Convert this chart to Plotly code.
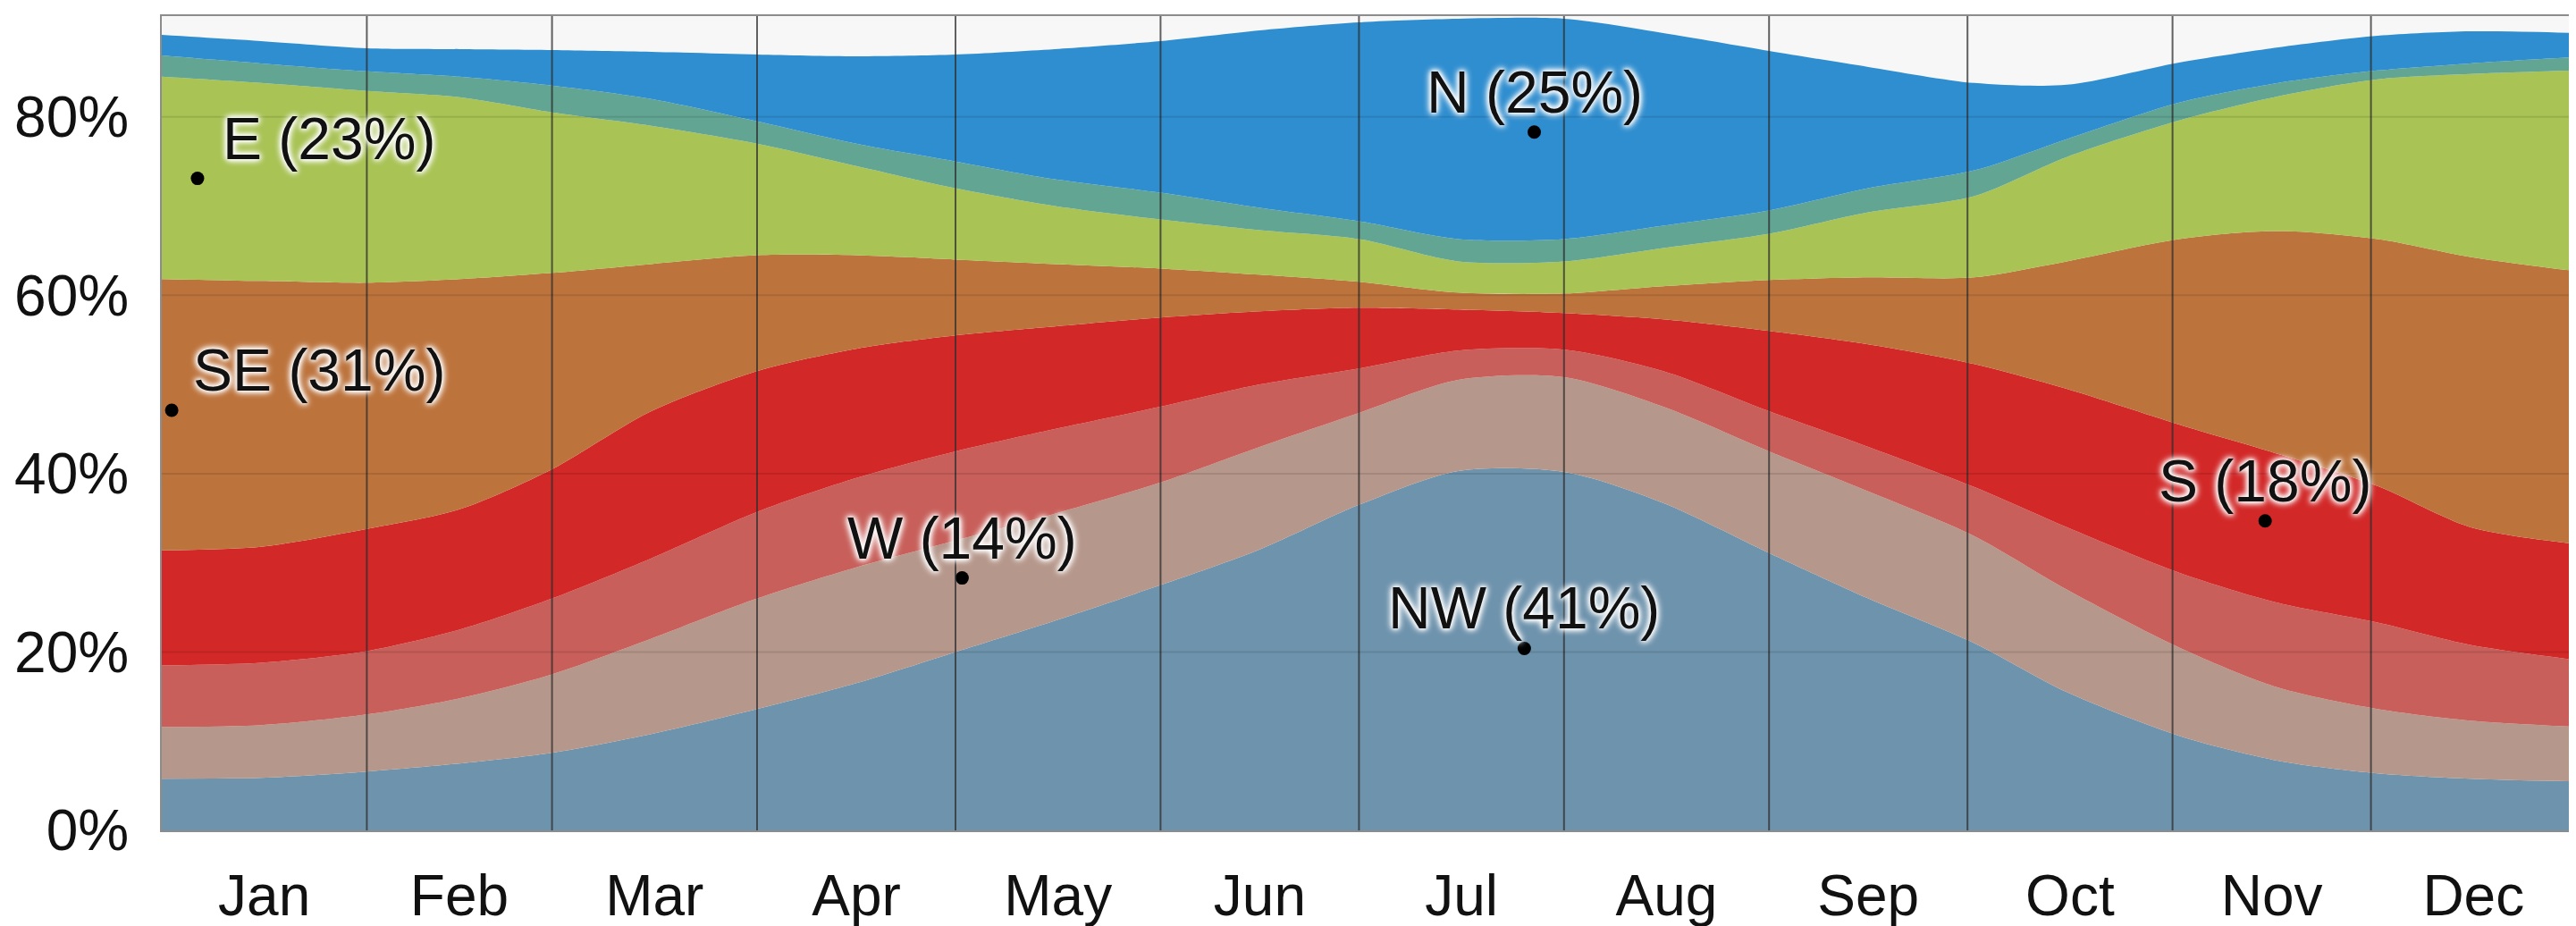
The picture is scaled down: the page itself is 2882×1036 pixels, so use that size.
import plotly.graph_objects as go

# ---- data -------------------------------------------------------------
days = [0, 15, 31, 45, 59, 74, 90, 105, 120, 135, 151, 166, 181, 196, 212,
        227, 243, 258, 274, 288, 305, 320, 335, 349, 365]

# percentage of hours the wind blows from each direction (stacked bottom -> top)
NW = [5.8, 5.9, 6.6, 7.5, 8.7, 10.8, 13.6, 16.5, 20.0, 23.5, 27.5, 31.5, 36.5, 40.3, 40.2,
      36.7, 31.1, 26.0, 21.0, 15.5, 10.6, 7.8, 6.4, 5.8, 5.5]
W = [5.8, 5.9, 6.4, 7.3, 8.8, 10.7, 12.4, 13.0, 12.5, 12.0, 11.5, 11.5, 10.3, 10.2, 10.6,
     10.8, 11.4, 12.0, 12.0, 11.5, 9.9, 8.2, 7.2, 6.5, 6.1]
SW = [6.9, 7.0, 7.1, 7.7, 8.5, 9.0, 9.7, 10.0, 10.0, 9.5, 8.5, 7.0, 5.0, 3.3, 3.1,
      4.0, 4.5, 5.0, 5.5, 7.0, 8.4, 9.5, 9.7, 8.5, 7.5]
S = [12.9, 13.0, 13.7, 13.5, 14.5, 16.5, 15.8, 14.5, 13.0, 11.5, 10.0, 8.2, 6.8, 4.6, 4.1,
     5.8, 9.0, 11.5, 13.8, 15.5, 16.6, 16.7, 15.3, 13.2, 13.0]
SE = [30.4, 29.8, 27.6, 25.8, 22.0, 16.5, 13.0, 10.5, 8.5, 7.0, 5.5, 4.1, 2.9, 1.9, 2.2,
      3.7, 5.7, 7.5, 9.7, 14.3, 20.8, 25.0, 27.7, 30.3, 30.6]
E = [22.7, 22.2, 21.5, 20.4, 18.0, 15.5, 12.5, 10.0, 8.0, 6.5, 5.5, 5.0, 4.8, 3.5, 3.6,
     4.3, 5.2, 7.3, 9.1, 11.7, 13.3, 15.1, 17.9, 20.5, 22.5]
NE = [2.4, 2.2, 2.2, 2.3, 3.0, 3.0, 2.5, 2.5, 3.0, 3.0, 3.0, 2.5, 2.0, 2.5, 2.5,
      2.5, 2.6, 2.7, 2.9, 2.0, 2.0, 1.5, 1.0, 1.2, 1.5]
N = [2.3, 2.5, 2.6, 3.1, 4.0, 5.3, 7.5, 9.8, 12.0, 14.6, 17.0, 19.9, 22.3, 24.7, 24.7,
     21.6, 17.9, 13.6, 9.8, 6.1, 4.5, 4.0, 3.9, 3.6, 2.7]

series_names = ["NW", "W", "SW", "S", "SE", "E", "NE", "N"]
series_values = [NW, W, SW, S, SE, E, NE, N]
series_colors = ["#6e93ad", "#b6978b", "#c85f5a", "#d32828", "#bd733c",
                 "#a9c354", "#62a592", "#2f8ed0"]

months = ["Jan", "Feb", "Mar", "Apr", "May", "Jun", "Jul", "Aug", "Sep", "Oct", "Nov", "Dec"]
month_days = [31, 28, 31, 30, 31, 30, 31, 31, 30, 31, 30, 31]

y_ticks = [0, 20, 40, 60, 80]
y_tick_labels = ["0%", "20%", "40%", "60%", "80%"]

label_texts = ["E (23%)", "SE (31%)", "W (14%)", "NW (41%)", "N (25%)", "S (18%)"]
label_days = [5.4, 1.5, 121, 206, 207.5, 318]
label_values = [73.1, 47.1, 28.3, 20.4, 78.3, 34.7]
label_xshift = [147, 165, 0, 0, 0, 0]

# ---- derived axis positions ------------------------------------------
month_starts = []
acc = 0
for d in month_days:
    month_starts.append(acc)
    acc += d
month_mids = [s + d / 2 for s, d in zip(month_starts, month_days)]

FONT = "Liberation Sans, Arial, sans-serif"

fig = go.Figure()
for name, vals, col in zip(series_names, series_values, series_colors):
    fig.add_trace(go.Scatter(
        x=days, y=vals, name=name, mode="lines", stackgroup="wind",
        line=dict(width=0, shape="spline", smoothing=0.8, color=col),
        fillcolor=col, hoverinfo="skip", showlegend=False,
    ))

fig.add_trace(go.Scatter(
    x=label_days, y=label_values, mode="markers",
    marker=dict(color="black", size=15), showlegend=False, hoverinfo="skip",
))

annotations = []
for t, xd, yv, xs in zip(label_texts, label_days, label_values, label_xshift):
    annotations.append(dict(
        x=xd, y=yv, xref="x", yref="y", text=t, showarrow=False,
        xanchor="center", yanchor="middle", xshift=xs, yshift=45,
        font=dict(family=FONT, size=66, color="#111111",
                  shadow="0px 0px 6px white, 0px 0px 8px white, 0px 0px 10px white, 0px 0px 4px white"),
    ))

shapes = []
for s in month_starts[1:]:
    shapes.append(dict(type="line", xref="x", yref="paper", x0=s, x1=s, y0=0, y1=1,
                       line=dict(color="rgba(45,45,45,0.75)", width=2), layer="above"))
for v in y_ticks[1:]:
    shapes.append(dict(type="line", xref="paper", yref="y", x0=0, x1=1, y0=v, y1=v,
                       line=dict(color="rgba(0,0,0,0.10)", width=2), layer="above"))

fig.update_layout(
    width=2882, height=1036,
    margin=dict(l=173, r=6, t=10, b=90, pad=0),
    paper_bgcolor="white", plot_bgcolor="#f7f7f7",
    font=dict(family=FONT, color="#111111"),
    annotations=annotations, shapes=shapes,
    xaxis=dict(range=[0, 365], tickmode="array", tickvals=month_mids, ticktext=months,
               tickfont=dict(size=64), ticks="outside", ticklen=16,
               tickcolor="rgba(0,0,0,0)", showgrid=False, zeroline=False,
               showline=True, mirror=True, linecolor="#8c8c8c", linewidth=2),
    yaxis=dict(range=[0, 91.3], tickmode="array", tickvals=y_ticks, ticktext=y_tick_labels,
               tickfont=dict(size=64), ticks="outside", ticklen=22,
               tickcolor="rgba(0,0,0,0)", showgrid=False, zeroline=False,
               showline=True, mirror=True, linecolor="#8c8c8c", linewidth=2),
)

fig.write_html("out.html")
